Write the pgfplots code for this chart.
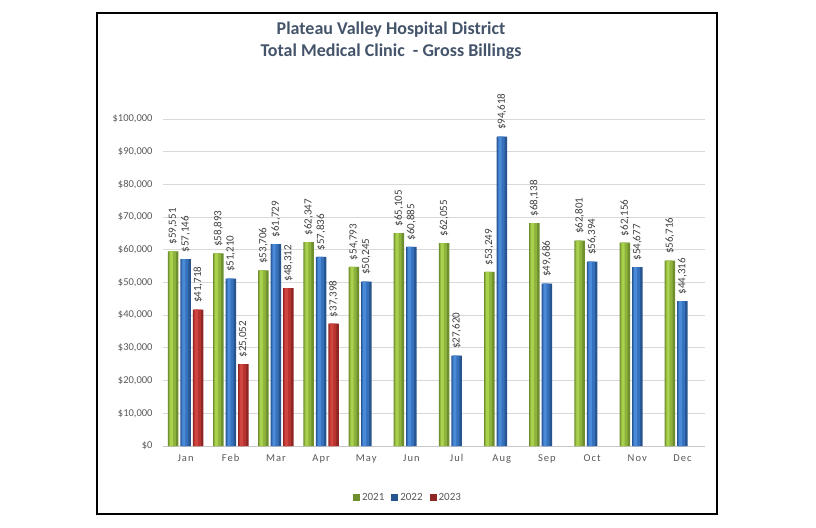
\documentclass[border=0pt]{standalone}
\usepackage{fontspec}
\setmainfont{Carlito}
\newfontfamily\spaced[LetterSpace=10]{Carlito}
\usepackage{pgfplots}
\usepackage{pgfplotstable}
\pgfplotsset{compat=1.18}
\definecolor{titleblue}{HTML}{44546A}
\definecolor{ticktext}{HTML}{595959}
\definecolor{gridgray}{HTML}{D9D9D9}
\definecolor{gdark}{HTML}{6E8F2E}
\definecolor{gbase}{HTML}{8DB33C}
\definecolor{glight}{HTML}{A9D14E}
\definecolor{bdark}{HTML}{275590}
\definecolor{bbase}{HTML}{3671BE}
\definecolor{blight}{HTML}{4A8AD6}
\definecolor{rdark}{HTML}{8E2623}
\definecolor{rbase}{HTML}{B8332F}
\definecolor{rlight}{HTML}{CF4640}

% monthly gross billings
\pgfplotstableread{
m  y2021  y2022
0  59551  57146
1  58893  51210
2  53706  61729
3  62347  57836
4  54793  50245
5  65105  60885
6  62055  27620
7  53249  94618
8  68138  49686
9  62801  56394
10 62156  54677
11 56716  44316
}\billings
\pgfplotstableread{
m  y2023
0  41718
1  25052
2  48312
3  37398
}\billingsnew

\begin{document}
\begin{tikzpicture}
\path[fill=white] (0,0) rectangle (816bp,528bp);
\draw[black, line width=2bp] (97bp,14bp) rectangle (717bp,515bp);
\node[font=\fontsize{18bp}{21bp}\selectfont\bfseries, text=titleblue, align=center]
  at (391bp,487bp) {Plateau Valley Hospital District\\[1bp]Total Medical Clinic\ \ - Gross Billings};
\begin{axis}[
  at={(163bp,82bp)}, anchor=south west,
  scale only axis, width=542bp, height=327bp,
  xmin=-0.5, xmax=11.5, ymin=0, ymax=100000,
  xtick={0,...,11},
  xticklabels={Jan,Feb,Mar,Apr,May,Jun,Jul,Aug,Sep,Oct,Nov,Dec},
  ytick distance=10000,
  /pgf/number format/assume math mode=true,
  yticklabel={\$\pgfmathprintnumber[fixed,precision=0,1000 sep={,}]{\tick}},
  scaled y ticks=false,
  ymajorgrids, grid style={gridgray, line width=0.8bp},
  axis x line*=bottom, axis y line*=left,
  x axis line style={gridgray!80!gray, line width=0.8bp, -},
  y axis line style={draw=none},
  major tick style={draw=none},
  tick label style={text=ticktext},
  yticklabel style={font=\fontsize{10.5bp}{12bp}\selectfont, xshift=-7bp},
  xticklabel style={font=\spaced\fontsize{10.5bp}{12bp}\selectfont, yshift=-5bp},
  clip=false,
  outer/.style={ybar, bar width=10.5bp, draw=none, fill=#1},
  inner/.style={ybar, forget plot, draw=none, fill=#1},
  labels/.style={forget plot, only marks, mark=*, mark size=0pt,
    mark options={draw=none, fill=none},
    nodes near coords={\$\pgfmathprintnumber[fixed,precision=0,1000 sep={,}]{\pgfplotspointmeta}},
    every node near coord/.append style={rotate=90, anchor=west, inner xsep=6.5bp, inner ysep=1pt,
      font=\fontsize{11bp}{12bp}\selectfont, text=black!75}},
  legend style={at={(0.452,-0.157)}, anchor=center, draw=none, legend columns=3,
    font=\fontsize{11bp}{12bp}\selectfont, text=ticktext,
    /tikz/every even column/.append style={column sep=5bp}},
  legend image code/.code={\fill[#1] (0bp,-3.5bp) rectangle (7bp,3.5bp);},
]
% 2021
\addplot[outer=gdark, bar shift=-12.5bp] table[x=m, y=y2021] {\billings};
\addplot[inner=gbase, bar width=7bp, bar shift=-13.2bp] table[x=m, y=y2021] {\billings};
\addplot[inner=glight, bar width=3bp, bar shift=-14.2bp] table[x=m, y=y2021] {\billings};
% 2022
\addplot[outer=bdark, bar shift=0bp] table[x=m, y=y2022] {\billings};
\addplot[inner=bbase, bar width=7bp, bar shift=-0.7bp] table[x=m, y=y2022] {\billings};
\addplot[inner=blight, bar width=3bp, bar shift=-1.7bp] table[x=m, y=y2022] {\billings};
% 2023
\addplot[outer=rdark, bar shift=12.5bp] table[x=m, y=y2023] {\billingsnew};
\addplot[inner=rbase, bar width=7bp, bar shift=11.8bp] table[x=m, y=y2023] {\billingsnew};
\addplot[inner=rlight, bar width=3bp, bar shift=10.8bp] table[x=m, y=y2023] {\billingsnew};
% value labels (12.5bp = 0.27675 category widths)
\addplot[labels] table[x expr=\thisrow{m}-0.27675, y=y2021] {\billings};
\addplot[labels] table[x=m, y=y2022] {\billings};
\addplot[labels] table[x expr=\thisrow{m}+0.27675, y=y2023] {\billingsnew};
\legend{2021,2022,2023}
\end{axis}
\end{tikzpicture}
\end{document}
